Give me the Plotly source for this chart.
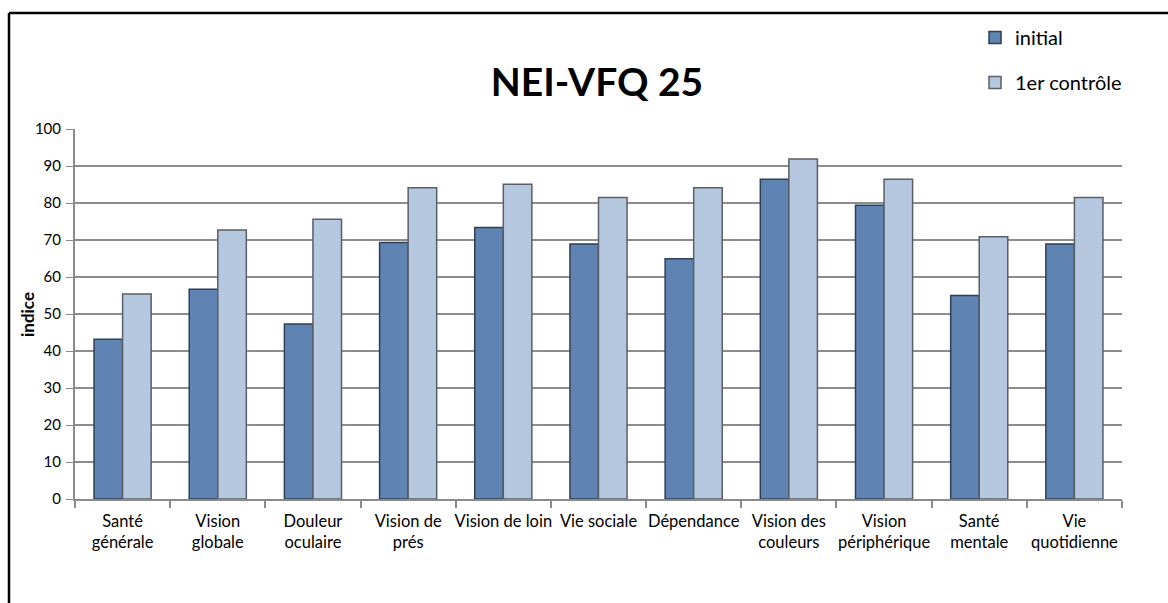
import plotly.graph_objects as go

categories = ["Santé<br>générale", "Vision<br>globale", "Douleur<br>oculaire", "Vision de<br>prés",
              "Vision de loin", "Vie sociale", "Dépendance", "Vision des<br>couleurs",
              "Vision<br>périphérique", "Santé<br>mentale", "Vie<br>quotidienne"]
initial = [43.2, 56.7, 47.3, 69.3, 73.4, 68.9, 64.9, 86.4, 79.4, 55.0, 68.9]
controle = [55.4, 72.7, 75.6, 84.1, 85.1, 81.5, 84.1, 91.9, 86.4, 70.9, 81.5]
y_ticks = [0, 10, 20, 30, 40, 50, 60, 70, 80, 90, 100]

W, H = 1168, 603
ml, mr, mt, mb = 75, 46, 129, 104
pw, ph = W - ml - mr, H - mt - mb

def px(x):
    return (x - ml) / pw

def py(y):
    return (H - mb - y) / ph

fig = go.Figure()
fig.add_trace(go.Bar(x=categories, y=initial, name="initial", legendgroup="a",
                     marker=dict(color="#5f84b3", line=dict(color="#2f3f52", width=1.5))))
fig.add_trace(go.Bar(x=categories, y=controle, name="1er contrôle", legendgroup="b",
                     marker=dict(color="#b6c8e0", line=dict(color="#5a5f66", width=1.5))))

fig.update_layout(
    width=W, height=H,
    margin=dict(l=ml, r=mr, t=mt, b=mb, autoexpand=False),
    paper_bgcolor="white", plot_bgcolor="white",
    font=dict(family="Lato, Open Sans, sans-serif", color="#000"),
    barmode="group", bargap=0.4, bargroupgap=0,
    title=dict(text="<b>NEI-VFQ 25</b>", x=px(597), xanchor="center", y=(H - 82) / H, yanchor="middle",
               xref="paper", yref="container", font=dict(size=39, family="Lato, Open Sans, sans-serif")),
    legend=dict(x=px(975), y=py(18), xanchor="left", yanchor="top", font=dict(size=20),
                tracegroupgap=16, bgcolor="rgba(0,0,0,0)"),
    showlegend=True,
)
fig.update_xaxes(showline=True, linecolor="#8a8a8a", linewidth=2, ticks="outside", tickson="boundaries",
                 ticklen=7, tickcolor="#8a8a8a", tickwidth=1.5, tickfont=dict(size=16.5), tickangle=0,
                 showgrid=False, ticklabelstandoff=6, automargin=False)
fig.update_yaxes(range=[0, 100], tickvals=y_ticks, showgrid=True, gridcolor="#8c8c8c", gridwidth=1.5,
                 showline=True, linecolor="#8a8a8a", linewidth=2, ticks="outside", ticklen=7,
                 tickcolor="#8a8a8a", tickfont=dict(size=15), zeroline=False, ticklabelstandoff=2,
                 automargin=False)

fig.add_annotation(text="<b>indice</b>", xref="paper", yref="paper", x=px(27), y=py(315),
                   textangle=-90, showarrow=False, font=dict(size=17), xanchor="center", yanchor="middle")

# outer frame: top and left border
fig.add_shape(type="line", xref="paper", yref="paper", x0=px(9), y0=py(13), x1=px(W + 5), y1=py(13),
              line=dict(color="#000", width=2.5))
fig.add_shape(type="line", xref="paper", yref="paper", x0=px(9), y0=py(13), x1=px(9), y1=py(H + 5),
              line=dict(color="#000", width=2.5))

fig.write_html("out.html", config={"displayModeBar": False},
               post_script="document.body.style.margin='0';document.body.style.overflow='hidden';")
